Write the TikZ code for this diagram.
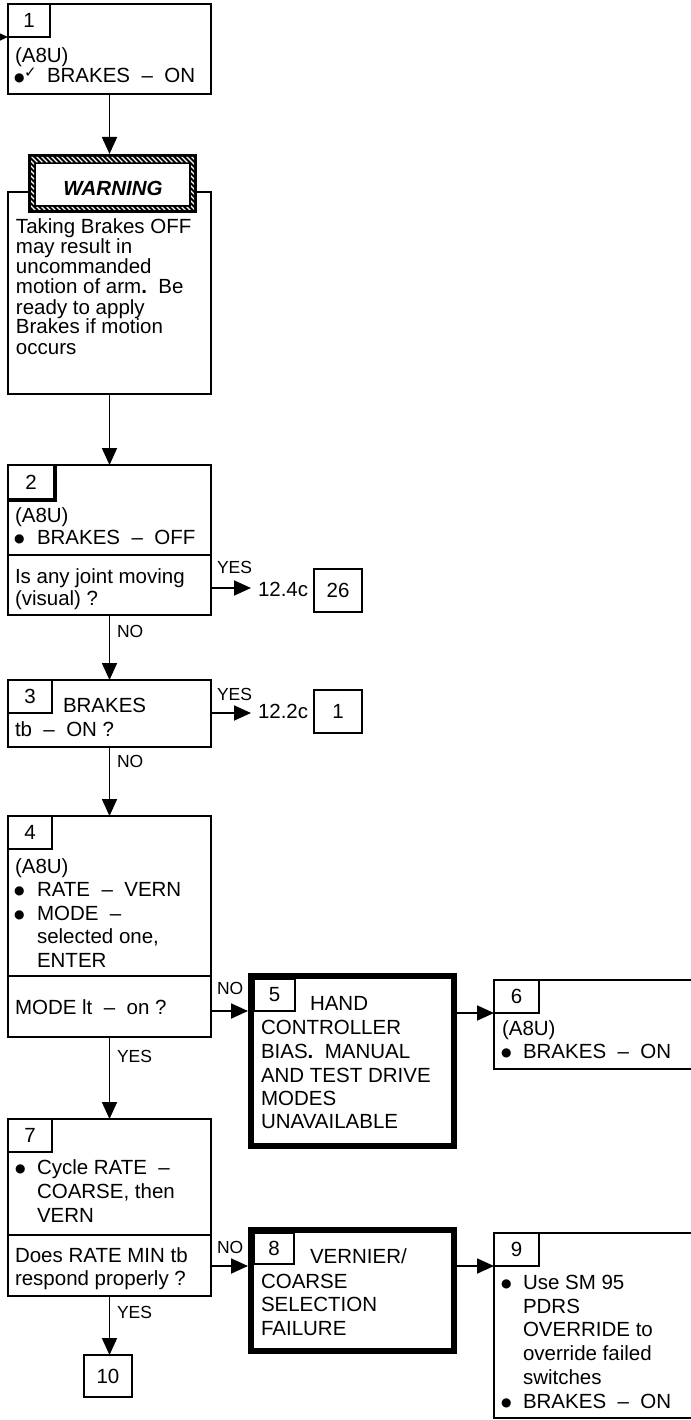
\documentclass[tikz,border=0pt]{standalone}
\usepackage{fontspec}
\setmainfont{Liberation Sans}
\newfontfamily\dejavu{DejaVu Sans}
\usetikzlibrary{arrows.meta}
\newcommand\bul{\raisebox{1.5pt}{\dejavu\fontsize{12}{12}\selectfont ●}}
\begin{document}
\begin{tikzpicture}[x=1pt,y=-1pt,
  box/.style={draw, line width=1.8pt, inner sep=0pt, outer sep=0pt, anchor=north west, fill=white,
    font=\fontsize{20.5}{24}\selectfont},
  heavybox/.style={draw, line width=6pt, inner sep=0pt, outer sep=0pt, anchor=north west, fill=white},
  numbox/.style={box, minimum width=44pt, minimum height=33pt},
  txt/.style={anchor=base west, inner sep=0pt, outer sep=0pt, font=\fontsize{20.5}{24}\selectfont},
  lbl/.style={anchor=base west, inner sep=0pt, outer sep=0pt, font=\fontsize{17.5}{20}\selectfont},
  arr/.style={line width=1.8pt, -{Triangle[length=17pt,width=15pt]}},
  rule/.style={line width=1.8pt}]
\useasboundingbox (0,0) rectangle (690,1420);

% ---------- Step 1
\node[box, minimum width=203pt, minimum height=90pt] (b1) at (8,4) {};
\node[numbox, minimum width=42pt] (n1) at (8,4) {1};
\node[txt] (b1a) at (15,63) {(A8U)};
\node[txt] (b1b) at (14,83) {\bul};
\node[txt] (b1c) at (24,78) {{\dejavu\fontsize{15}{15}\selectfont ✓}};
\node[txt] (b1d) at (47,83) {BRAKES~~–~~ON};
\coordinate (in1) at (-20,37);
\draw[arr] (in1) -- (b1.west |- in1);

% ---------- Warning
\node[box, minimum width=203pt, minimum height=202pt] (wbox) at (8,192) {};
\fill (28,154) rectangle (197,213);
\begin{scope}[even odd rule]
  \clip (31,157) rectangle (194,210) (34,162.5) rectangle (191,207);
  \foreach \i in {-80,-75,...,200} \draw[white, line width=1.2pt] (\i,150) -- (\i+70,220);
\end{scope}
\fill[white] (36,164.5) rectangle (189,205);
\node[inner sep=0pt, outer sep=0pt, minimum width=169pt, minimum height=59pt] (wframe) at (112.5,183.5) {};
\node[anchor=base, inner sep=0pt, font=\fontsize{20.5}{24}\selectfont\bfseries\itshape] (wtitle) at (113,196) {WARNING};
\node[txt] (w1) at (16,234) {Taking Brakes OFF};
\node[txt] (w2) at (16,254) {may result in};
\node[txt] (w3) at (16,274) {uncommanded};
\node[txt] (w4) at (16,294) {motion of arm\textbf{.}~~Be};
\node[txt] (w5) at (16,314) {ready to apply};
\node[txt] (w6) at (16,334) {Brakes if motion};
\node[txt] (w7) at (16,354) {occurs};
\draw[arr] (b1.south) -- (b1.south |- wframe.north);

% ---------- Step 2
\node[box, minimum width=203pt, minimum height=150pt] (b2) at (8,465) {};
\node[box, minimum width=46pt, minimum height=35pt] (n2) at (8,465) {2};
\draw[line width=4.5pt] ([xshift=1pt]n2.north east) -- ([xshift=1pt]n2.south east) -- (n2.south west);
\coordinate (d2) at (0,555);
\draw[rule] (b2.west |- d2) -- (b2.east |- d2);
\node[txt] (b2a) at (15,522) {(A8U)};
\node[txt] (b2b) at (14,544) {\bul};
\node[txt] (b2c) at (37,544) {BRAKES~~–~~OFF};
\node[txt] (b2d) at (15,583) {Is any joint moving};
\node[txt] (b2e) at (15,605) {(visual) ?};
\draw[arr] (wbox.south) -- (wbox.south |- b2.north);
\coordinate (q2) at (0,588);
\node[txt] (r2) at (258,596) {12.4c};
\node[box, minimum width=48pt, minimum height=43pt] (t26) at (314,569) {26};
\node[lbl] (y2) at (217,573) {YES};
\draw[arr] (b2.east |- q2) -- (r2.west |- q2) [shorten >=7pt];

% ---------- Step 3
\node[box, minimum width=203pt, minimum height=67pt] (b3) at (8,680) {};
\node[numbox] (n3) at (8,680) {3};
\node[txt] (b3a) at (63,712) {BRAKES};
\node[txt] (b3b) at (15,736) {tb~~–~~ON ?};
\draw[arr] (b2.south) -- (b3.north);
\node[lbl] (no2) at (117,637) {NO};
\coordinate (q3) at (0,713);
\node[txt] (r3) at (258,718) {12.2c};
\node[box, minimum width=48pt, minimum height=43pt] (t1) at (314,690) {1};
\node[lbl] (y3) at (217,700) {YES};
\draw[arr] (b3.east |- q3) -- (r3.west |- q3) [shorten >=7pt];

% ---------- Step 4
\node[box, minimum width=203pt, minimum height=221pt] (b4) at (8,816) {};
\node[numbox] (n4) at (8,816) {4};
\coordinate (d4) at (0,976);
\draw[rule] (b4.west |- d4) -- (b4.east |- d4);
\node[txt] (b4a) at (15,873) {(A8U)};
\node[txt] (b4b) at (14,896) {\bul};
\node[txt] (b4c) at (37,896) {RATE~~–~~VERN};
\node[txt] (b4d) at (14,920) {\bul};
\node[txt] (b4e) at (37,920) {MODE~~–};
\node[txt] (b4f) at (37,943) {selected one,};
\node[txt] (b4g) at (37,967) {ENTER};
\node[txt] (b4h) at (15,1014) {MODE lt~~–~~on ?};
\draw[arr] (b3.south) -- (b4.north);
\node[lbl] (no3) at (117,767) {NO};

% ---------- Step 5
\node[heavybox, minimum width=203pt, minimum height=170pt] (b5) at (251,976) {};
\node[box, minimum width=41pt, minimum height=32pt] (n5) at (254,979) {5};
\node[txt] (b5a) at (310,1010) {HAND};
\node[txt] (b5b) at (261,1034) {CONTROLLER};
\node[txt] (b5c) at (261,1058) {BIAS\textbf{.}~~MANUAL};
\node[txt] (b5d) at (261,1082) {AND TEST DRIVE};
\node[txt] (b5e) at (261,1105) {MODES};
\node[txt] (b5f) at (261,1128) {UNAVAILABLE};
\coordinate (q4) at (0,1011);
\draw[arr] (b4.east |- q4) -- (b5.west |- q4) [shorten >=3pt];
\node[lbl] (no4) at (217,994) {NO};

% ---------- Step 6
\node[box, minimum width=198pt, minimum height=89pt] (b6) at (494,980) {};
\node[numbox, minimum width=45pt] (n6) at (494,980) {6};
\node[txt] (b6a) at (502,1035) {(A8U)};
\node[txt] (b6b) at (501,1058) {\bul};
\node[txt] (b6c) at (523,1058) {BRAKES~~–~~ON};
\coordinate (q5) at (0,1013);
\draw[arr] (b5.east |- q5) -- (b6.west |- q5) [shorten <=3pt];

% ---------- Step 7
\node[box, minimum width=203pt, minimum height=177pt] (b7) at (8,1119) {};
\node[numbox] (n7) at (8,1119) {7};
\coordinate (d7) at (0,1235);
\draw[rule] (b7.west |- d7) -- (b7.east |- d7);
\node[txt] (b7a) at (15,1174) {\bul};
\node[txt] (b7b) at (37,1174) {Cycle RATE~~–};
\node[txt] (b7c) at (37,1198) {COARSE, then};
\node[txt] (b7d) at (37,1222) {VERN};
\node[txt] (b7e) at (15,1262) {Does RATE MIN tb};
\node[txt] (b7f) at (15,1285) {respond properly ?};
\draw[arr] (b4.south) -- (b7.north);
\node[lbl] (y4) at (117,1062) {YES};

% ---------- Step 8
\node[heavybox, minimum width=203pt, minimum height=121pt] (b8) at (251,1230) {};
\node[box, minimum width=40pt, minimum height=31pt] (n8) at (254,1233) {8};
\node[txt] (b8a) at (310,1263) {VERNIER/};
\node[txt] (b8b) at (261,1288) {COARSE};
\node[txt] (b8c) at (261,1311) {SELECTION};
\node[txt] (b8d) at (261,1335) {FAILURE};
\coordinate (q7) at (0,1266);
\draw[arr] (b7.east |- q7) -- (b8.west |- q7) [shorten >=3pt];
\node[lbl] (no7) at (217,1253) {NO};

% ---------- Step 9
\node[box, minimum width=198pt, minimum height=185pt] (b9) at (494,1233) {};
\node[numbox, minimum width=45pt] (n9) at (494,1233) {9};
\node[txt] (b9a) at (501,1289) {\bul};
\node[txt] (b9b) at (523,1289) {Use SM 95};
\node[txt] (b9c) at (523,1313) {PDRS};
\node[txt] (b9d) at (523,1336) {OVERRIDE to};
\node[txt] (b9e) at (523,1360) {override failed};
\node[txt] (b9f) at (523,1384) {switches};
\node[txt] (b9g) at (501,1408) {\bul};
\node[txt] (b9h) at (523,1408) {BRAKES~~–~~ON};
\draw[arr] (b8.east |- q7) -- (b9.west |- q7) [shorten <=3pt];

% ---------- Step 10
\node[box, minimum width=48pt, minimum height=42pt] (b10) at (84,1355) {10};
\draw[arr] (b7.south) -- (b7.south |- b10.north);
\node[lbl] (y7) at (117,1318) {YES};
\end{tikzpicture}
\end{document}
